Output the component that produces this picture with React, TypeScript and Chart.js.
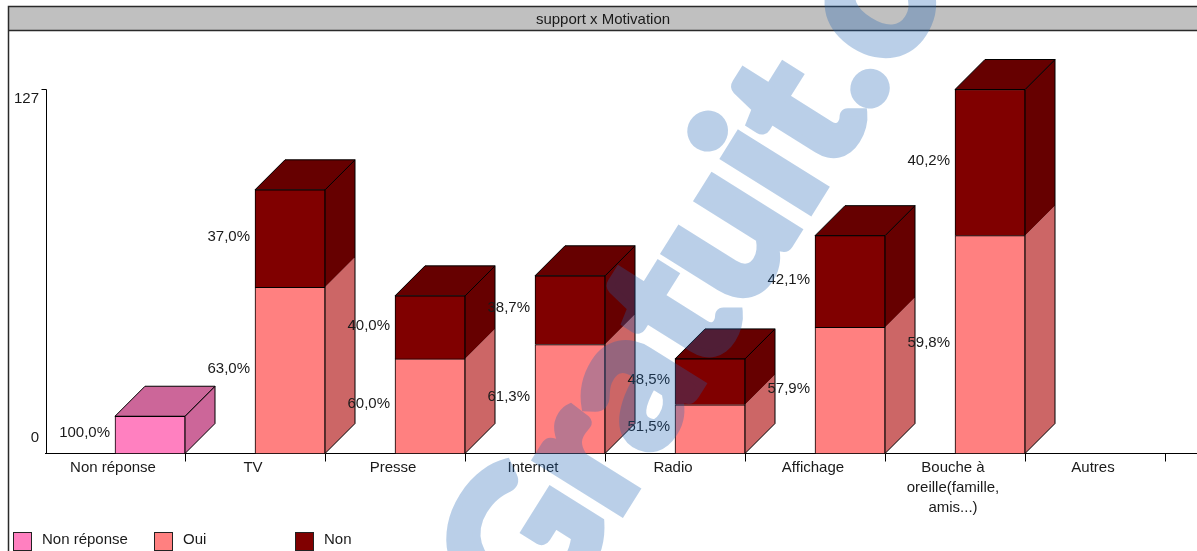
import React, { useEffect, useRef } from "react";
import { Chart, registerables } from "chart.js";

Chart.register(...registerables);

const WIDTH = 1197;
const HEIGHT = 551;
const FONT = "'Liberation Sans', Arial, sans-serif";
const TEXT_COLOR = "#1a1a1a";

const chartTitle = "support x Motivation";
const categories: (string | string[])[] = [
  "Non réponse",
  "TV",
  "Presse",
  "Internet",
  "Radio",
  "Affichage",
  ["Bouche à", "oreille(famille,", "amis...)"],
  "Autres",
];
const nonReponseValues = [13, null, null, null, null, null, null, null];
const ouiValues = [null, 58, 33, 38, 17, 44, 76, null];
const nonValues = [null, 34, 22, 24, 16, 32, 51, null];
const yTickValues = [0, 127];

const seriesStyles = [
  { label: "Non réponse", front: "#FF80C0", side: "#CC6699" },
  { label: "Oui", front: "#FF8080", side: "#CC6666" },
  { label: "Non", front: "#800000", side: "#660000" },
];

const DEPTH = 30;

const percentText = (value: number, total: number) =>
  `${((value / total) * 100).toFixed(1).replace(".", ",")}%`;

// Real series only: the first dataset is the empty spacer stack.
const seriesMetas = (chart: any) =>
  [1, 2, 3].map((i) => chart.getDatasetMeta(i));

const stackTotal = (chart: any, index: number) =>
  [1, 2, 3].reduce((sum, i) => sum + (chart.data.datasets[i].data[index] ?? 0), 0);

// Band, frame and the left-hand frame edge behind the plot.
const framePlugin = {
  id: "frame",
  beforeDraw(chart: any) {
    const { ctx } = chart;
    ctx.save();
    ctx.fillStyle = "#ffffff";
    ctx.fillRect(0, 0, WIDTH, HEIGHT);
    ctx.fillStyle = "#c0c0c0";
    ctx.fillRect(8, 6, WIDTH, 24);
    ctx.strokeStyle = "#2a2a2a";
    ctx.lineWidth = 1.5;
    ctx.beginPath();
    ctx.moveTo(WIDTH, 6.5);
    ctx.lineTo(8.5, 6.5);
    ctx.lineTo(8.5, HEIGHT);
    ctx.moveTo(8.5, 30.5);
    ctx.lineTo(WIDTH, 30.5);
    ctx.stroke();
    ctx.fillStyle = TEXT_COLOR;
    ctx.font = `15px ${FONT}`;
    ctx.textAlign = "center";
    ctx.textBaseline = "middle";
    ctx.fillText(chartTitle, 603, 20);
    ctx.restore();
  },
  afterDraw(chart: any) {
    const { ctx, chartArea, scales } = chart;
    ctx.save();
    ctx.strokeStyle = "#000";
    ctx.lineWidth = 1;
    ctx.beginPath();
    // Value axis with its single top tick, one pixel inside the first category.
    ctx.moveTo(41.5, scales.y.getPixelForValue(127));
    ctx.lineTo(46.5, scales.y.getPixelForValue(127));
    ctx.lineTo(46.5, scales.y.getPixelForValue(0));
    // The category axis runs on past its last tick.
    ctx.moveTo(chartArea.right, Math.round(chartArea.bottom) - 0.5);
    ctx.lineTo(WIDTH, Math.round(chartArea.bottom) - 0.5);
    ctx.stroke();
    ctx.restore();
  },
};

// Extrudes each stacked bar into a box: side faces and a cap behind the fronts.
const boxPlugin = {
  id: "boxes",
  beforeDatasetsDraw(chart: any) {
    const { ctx } = chart;
    ctx.save();
    categories.forEach((_, index) => {
      const parts: { bar: any; style: any }[] = [];
      seriesMetas(chart).forEach((meta: any, s: number) => {
        const bar = meta.data[index];
        if (bar && chart.data.datasets[s + 1].data[index] != null) {
          parts.push({ bar, style: seriesStyles[s] });
        }
      });
      if (!parts.length) return;
      const right = parts[0].bar.x + parts[0].bar.width / 2;
      const left = parts[0].bar.x - parts[0].bar.width / 2;
      const base = parts[0].bar.base;
      const top = parts[parts.length - 1].bar.y;
      parts.forEach(({ bar, style }) => {
        ctx.fillStyle = style.side;
        ctx.beginPath();
        ctx.moveTo(right, bar.y);
        ctx.lineTo(right + DEPTH, bar.y - DEPTH);
        ctx.lineTo(right + DEPTH, bar.base - DEPTH);
        ctx.lineTo(right, bar.base);
        ctx.closePath();
        ctx.fill();
      });
      ctx.strokeStyle = "#000";
      ctx.lineWidth = 1;
      ctx.beginPath();
      ctx.moveTo(right, top);
      ctx.lineTo(right + DEPTH, top - DEPTH);
      ctx.lineTo(right + DEPTH, base - DEPTH);
      ctx.lineTo(right, base);
      ctx.closePath();
      ctx.stroke();
      ctx.fillStyle = parts[parts.length - 1].style.side;
      ctx.beginPath();
      ctx.moveTo(left, top);
      ctx.lineTo(left + DEPTH, top - DEPTH);
      ctx.lineTo(right + DEPTH, top - DEPTH);
      ctx.lineTo(right, top);
      ctx.closePath();
      ctx.fill();
      ctx.stroke();
    });
    ctx.restore();
  },
  afterDatasetsDraw(chart: any) {
    const { ctx } = chart;
    ctx.save();
    ctx.font = `15px ${FONT}`;
    ctx.fillStyle = TEXT_COLOR;
    ctx.textAlign = "right";
    ctx.textBaseline = "middle";
    seriesMetas(chart).forEach((meta: any, s: number) => {
      meta.data.forEach((bar: any, index: number) => {
        const value = chart.data.datasets[s + 1].data[index];
        if (value == null) return;
        const left = bar.x - bar.width / 2;
        ctx.fillText(
          percentText(value, stackTotal(chart, index)),
          left - 5,
          (bar.y + bar.base) / 2 - 2
        );
      });
    });
    ctx.restore();
  },
};

// The axis numbers sit inside the axis span rather than level with their ticks.
const yLabelPlugin = {
  id: "yLabels",
  afterDraw(chart: any) {
    const { ctx } = chart;
    const scale = chart.scales.y;
    ctx.save();
    ctx.font = `15px ${FONT}`;
    ctx.fillStyle = TEXT_COLOR;
    ctx.textAlign = "right";
    ctx.textBaseline = "middle";
    yTickValues.forEach((value) => {
      const shift = value === 0 ? -15.5 : 9;
      ctx.fillText(String(value), 39, scale.getPixelForValue(value) + shift);
    });
    ctx.restore();
  },
};

const legendPlugin = {
  id: "legendRow",
  afterDraw(chart: any) {
    const { ctx } = chart;
    ctx.save();
    ctx.font = `15px ${FONT}`;
    ctx.textAlign = "left";
    ctx.textBaseline = "middle";
    seriesStyles.forEach((style, i) => {
      const x = 13.5 + i * 141;
      ctx.fillStyle = style.front;
      ctx.strokeStyle = "#222";
      ctx.lineWidth = 1;
      ctx.fillRect(x, 532.5, 18, 18);
      ctx.strokeRect(x, 532.5, 18, 18);
      ctx.fillStyle = TEXT_COLOR;
      ctx.fillText(style.label, x + 28.5, 540);
    });
    ctx.restore();
  },
};

// Diagonal site mark laid over the finished chart. It is painted opaque on a
// scratch canvas so the thickening outline does not double up the translucency.
const watermarkPlugin = {
  id: "siteMark",
  afterDraw(chart: any) {
    const { ctx } = chart;
    const scratch = document.createElement("canvas");
    scratch.width = WIDTH;
    scratch.height = HEIGHT;
    const sc = scratch.getContext("2d") as CanvasRenderingContext2D;
    sc.font = "900 195px Lato, sans-serif";
    sc.fillStyle = "rgb(30,100,180)";
    sc.strokeStyle = "rgb(30,100,180)";
    sc.lineWidth = 8;
    sc.lineJoin = "miter";
    sc.textAlign = "left";
    sc.textBaseline = "alphabetic";
    sc.translate(882, 96);
    sc.rotate((-58 * Math.PI) / 180);
    const lead = sc.measureText("Gratuit").width + sc.measureText(".").width / 2;
    sc.fillText("Gratuit.c", -lead, 0);
    sc.strokeText("Gratuit.c", -lead, 0);
    ctx.save();
    ctx.globalAlpha = 0.3;
    ctx.drawImage(scratch, 0, 0);
    ctx.restore();
  },
};

export default function App() {
  const canvasRef = useRef<HTMLCanvasElement | null>(null);

  useEffect(() => {
    const chart = new Chart(canvasRef.current as HTMLCanvasElement, {
      type: "bar",
      data: {
        labels: categories as any,
        datasets: [
          // Empty stack that keeps the left half of each category free.
          { label: "", data: categories.map(() => null), stack: "gap", backgroundColor: "transparent", borderWidth: 0 },
          { label: seriesStyles[0].label, data: nonReponseValues, stack: "main", backgroundColor: seriesStyles[0].front, borderColor: "#000", borderWidth: 1 },
          { label: seriesStyles[1].label, data: ouiValues, stack: "main", backgroundColor: seriesStyles[1].front, borderColor: "#000", borderWidth: 1 },
          { label: seriesStyles[2].label, data: nonValues, stack: "main", backgroundColor: seriesStyles[2].front, borderColor: "#000", borderWidth: 1 },
        ] as any,
      },
      options: {
        responsive: false,
        animation: false,
        layout: { padding: { top: 89.5, right: 32, left: 0, bottom: 0 } },
        datasets: { bar: { categoryPercentage: 1, barPercentage: 1 } },
        plugins: { legend: { display: false }, title: { display: false }, tooltip: { enabled: false } },
        scales: {
          x: {
            stacked: true,
            offset: true,
            border: { color: "#000", width: 1 },
            grid: {
              offset: true,
              drawOnChartArea: false,
              tickLength: 8,
              tickColor: (ctx: any) => (ctx.index === 0 ? "transparent" : "#000"),
            },
            ticks: {
              autoSkip: false,
              maxRotation: 0,
              minRotation: 0,
              color: TEXT_COLOR,
              padding: -4,
              labelOffset: -2,
              font: { family: FONT, size: 15, lineHeight: "20px" },
            },
            afterFit: (scale: any) => {
              scale.height = 97.5;
            },
          },
          y: {
            stacked: true,
            min: 0,
            max: 127,
            border: { display: false },
            grid: { display: false },
            ticks: { display: false },
            afterBuildTicks: (scale: any) => {
              scale.ticks = yTickValues.map((value) => ({ value }));
            },
            afterFit: (scale: any) => {
              scale.width = 45;
            },
          },
        },
      } as any,
      plugins: [framePlugin, boxPlugin, yLabelPlugin, legendPlugin, watermarkPlugin],
    });
    return () => chart.destroy();
  }, []);

  return (
    <div style={{ position: "fixed", left: 0, top: 0, width: WIDTH, height: HEIGHT, background: "#fff" }}>
      <canvas ref={canvasRef} width={WIDTH} height={HEIGHT} style={{ display: "block" }} />
    </div>
  );
}
